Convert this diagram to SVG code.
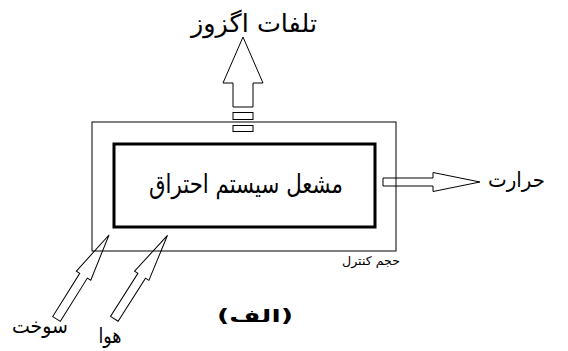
<svg xmlns="http://www.w3.org/2000/svg" xmlns:xlink="http://www.w3.org/1999/xlink" width="568" height="351" viewBox="0 0 568 351">
<style>
.ln{fill:none;stroke:#000;stroke-width:1}
.thick{fill:none;stroke:#000;stroke-width:3}
.t{font-family:"DejaVu Sans",sans-serif;fill:#000;direction:rtl;text-anchor:middle}
</style>
<defs>
<polygon id="diag" class="ln" points="0,0 -48,-8.5 -48,-4.5 -99,-4.5 -99,4.5 -48,4.5 -48,8.5"/>
</defs>
<rect width="568" height="351" fill="#fff"/>
<g id="control-volume">
<rect class="ln" x="92" y="122" width="304" height="129"/>
<text class="t" x="371" y="265" font-size="12" textLength="58" lengthAdjust="spacingAndGlyphs">حجم کنترل</text>
</g>
<g id="burner">
<rect class="thick" x="114" y="144" width="261" height="83"/>
<text class="t" x="246" y="193" font-size="26" textLength="194" lengthAdjust="spacingAndGlyphs">مشعل سیستم احتراق</text>
</g>
<g id="connectors">
<polygon class="ln" points="243,37 263,83 253,83 253,107 233,107 233,83 223,83"/>
<rect class="ln" x="233" y="112.5" width="20" height="7"/>
<rect class="ln" x="233" y="125.5" width="20" height="6"/>
<polygon class="ln" points="480,182 433,172.5 433,178 383,178 383,186 433,186 433,191.5"/>
<use xlink:href="#diag" transform="translate(109,235) rotate(-58)"/>
<use xlink:href="#diag" transform="translate(167.5,235.3) rotate(-57.5)"/>
</g>
<g id="exhaust-label">
<text class="t" x="254" y="32" font-size="25" textLength="126" lengthAdjust="spacingAndGlyphs">تلفات اگزوز</text>
</g>
<g id="heat-label">
<text class="t" x="516.5" y="187" font-size="21" textLength="57" lengthAdjust="spacingAndGlyphs">حرارت</text>
</g>
<g id="fuel-label">
<text class="t" x="40" y="333" font-size="21" textLength="56" lengthAdjust="spacingAndGlyphs">سوخت</text>
</g>
<g id="air-label">
<text class="t" x="110" y="343" font-size="21" textLength="23" lengthAdjust="spacingAndGlyphs">هوا</text>
</g>
<g id="caption">
<text class="t" x="255" y="322" font-size="17" font-weight="bold" textLength="76" lengthAdjust="spacingAndGlyphs">(الف)</text>
</g>
</svg>
